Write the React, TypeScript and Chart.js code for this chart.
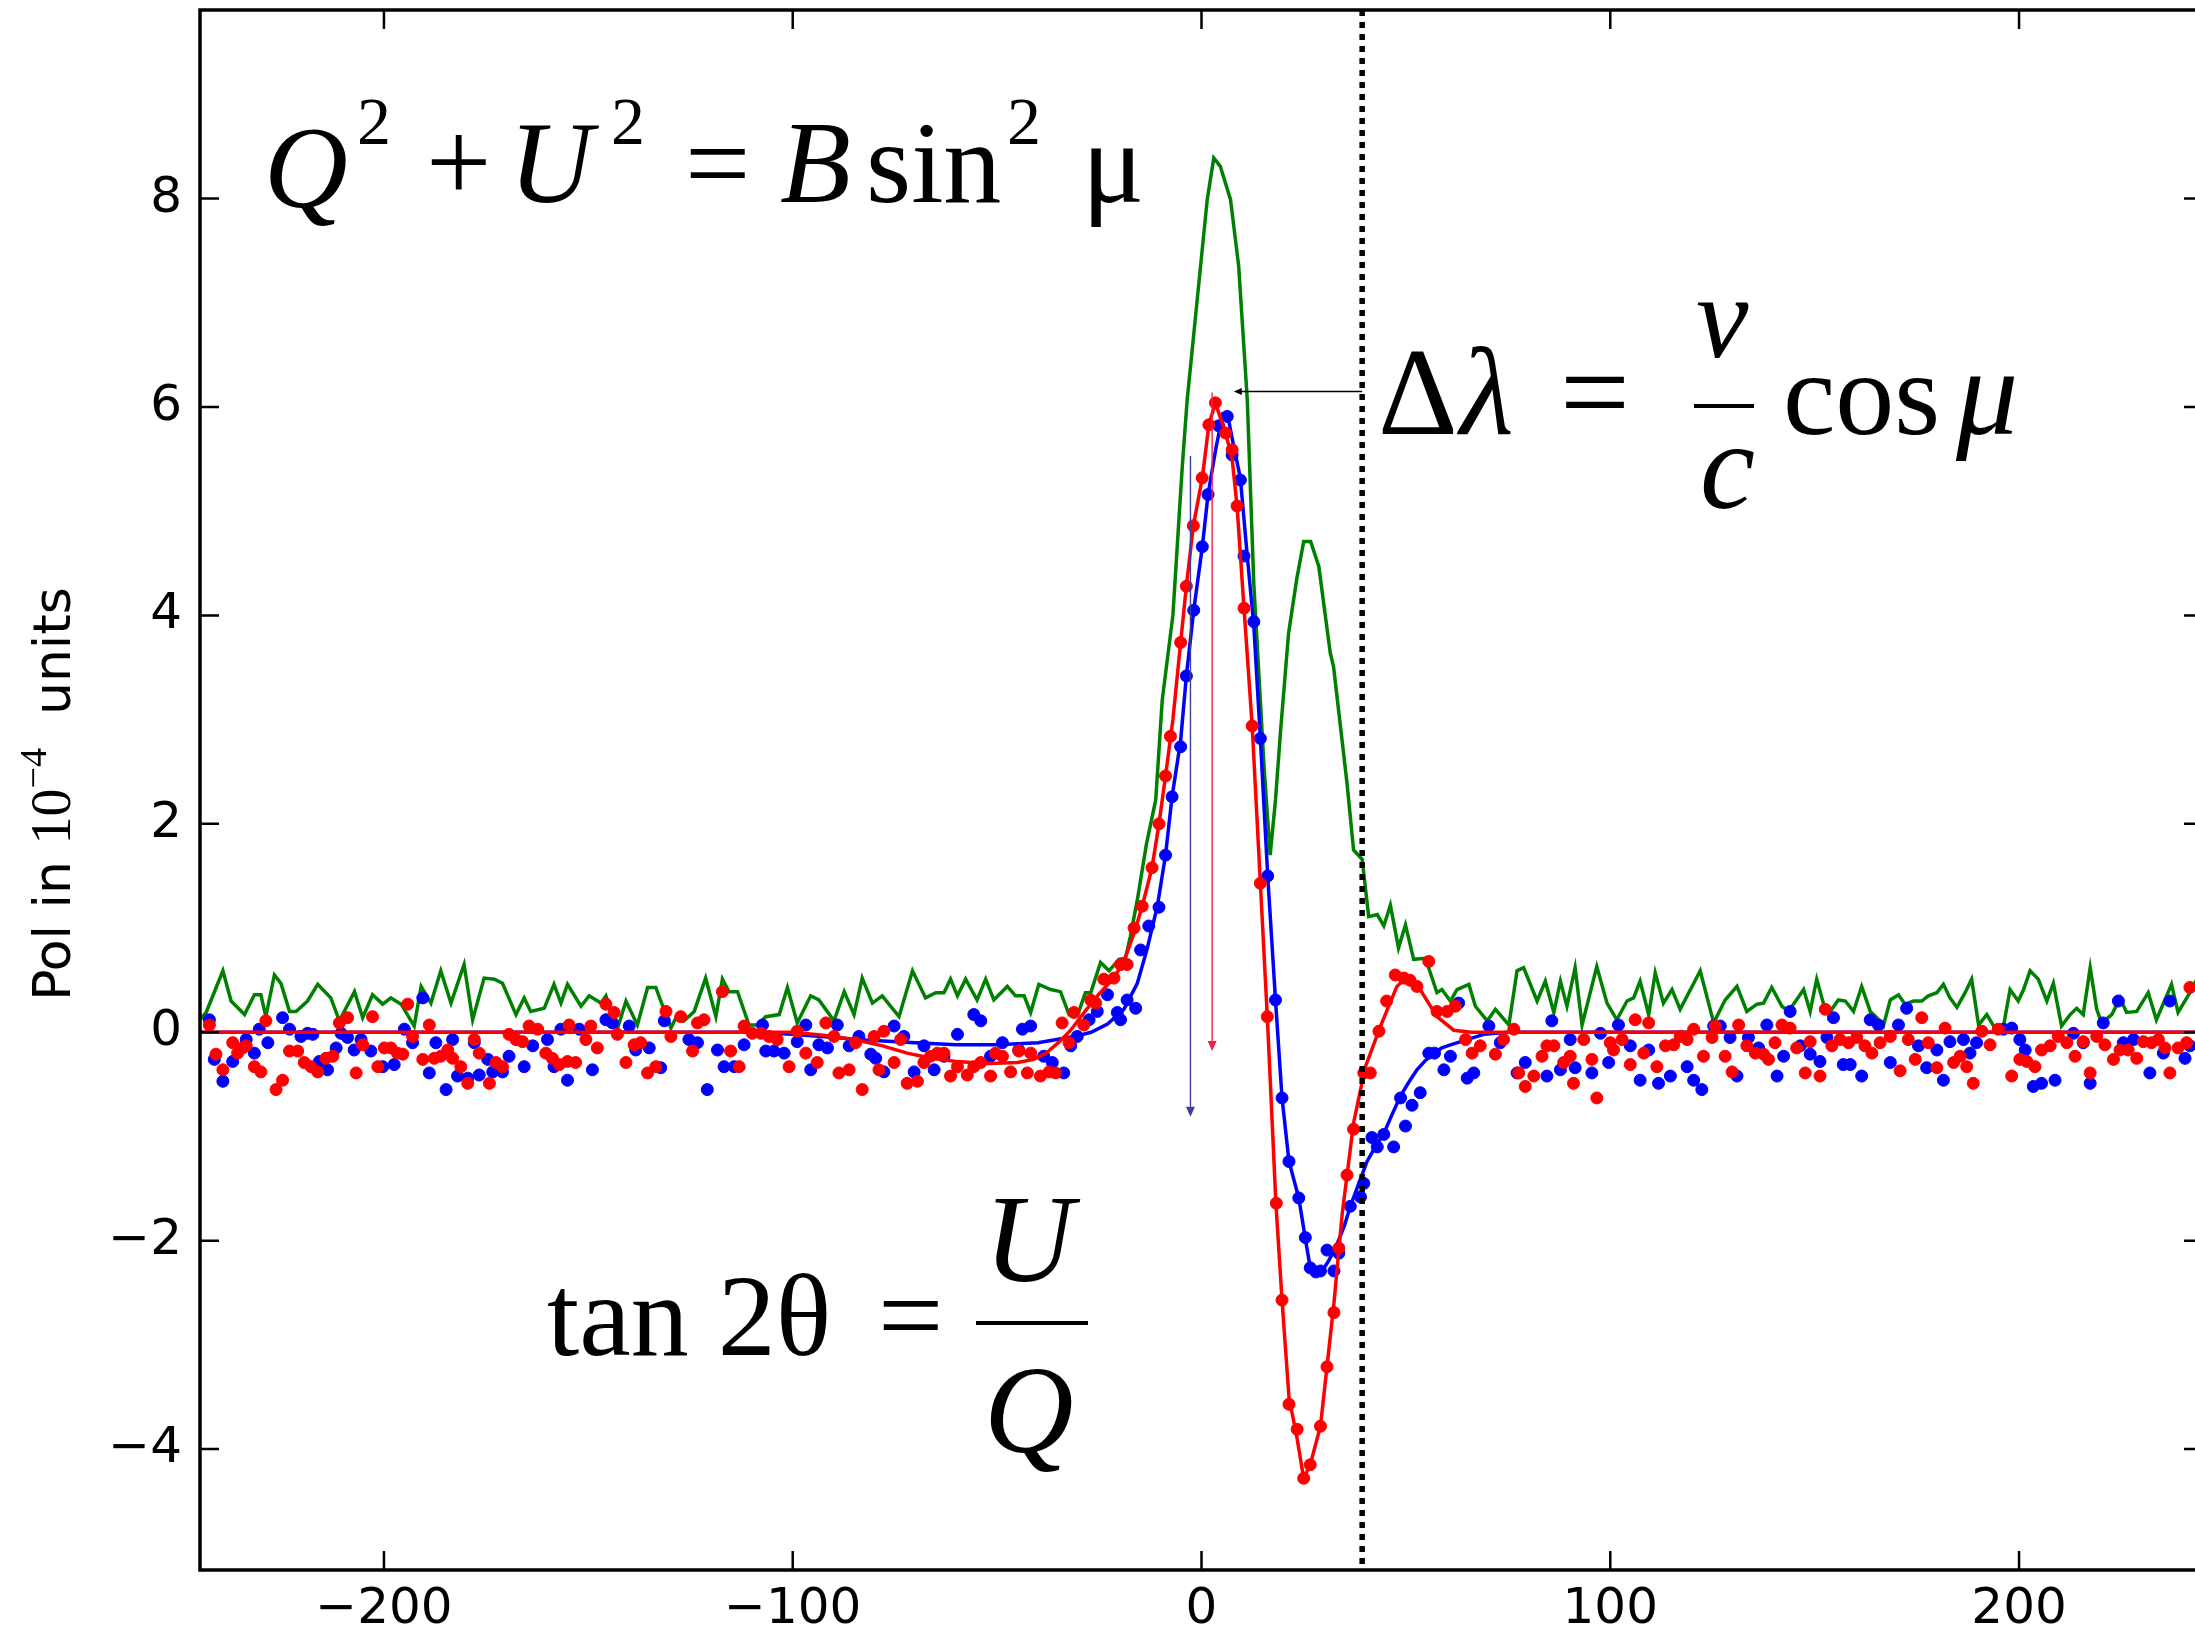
import React, { useEffect, useRef } from "react";
import { Chart, registerables } from "chart.js";

Chart.register(...registerables);

// ---------------- data ----------------
const X_MIN = -245;
const X_MAX = 245;
const Y_MIN = -5.16;
const Y_MAX = 9.81;
const X_TICKS = [-200, -100, 0, 100, 200];
const Y_TICKS = [-4, -2, 0, 2, 4, 6, 8];

// green curve (total polarisation)
const GREEN_X = [
  -245, -243.5, -239.4, -237.4, -234.1, -231.7, -230.1, -228.9, -226.8, -225.2, -223.1, -221.5, -218.7, -216.2, -213.0,
  -210.9, -207.2, -205.2, -202.8, -200.3, -198.3, -195.8, -192.6, -190.9, -188.5, -186.1, -183.6, -180.4, -178.3, -175.5,
  -173.0, -171.0, -167.7, -165.7, -164.1, -160.8, -158.4, -156.7, -155.1, -151.8, -149.8, -146.9, -145.7, -142.9, -140.8,
  -138.0, -135.5, -133.5, -129.8, -128.2, -126.6, -124.1, -121.3, -118.8, -117.2, -115.6, -113.5, -110.7, -108.6, -106.6,
  -103.3, -101.3, -98.9, -95.6, -93.6, -89.9, -87.4, -85.0, -83.0, -80.5, -78.1, -74.0, -70.7, -67.5, -65.0, -63.0, -61.4,
  -59.7, -57.7, -54.9, -52.8, -50.8, -47.5, -45.5, -43.4, -41.8, -39.8, -36.9, -34.5, -32.4, -30.0, -28.4, -27.1, -24.7,
  -22.6, -20.2, -18.6, -17.4, -15.7, -13.5, -11.2, -9.6, -7.0, -4.7, -3.5, -1.05, 1.4, 3.0, 4.6, 7.1, 9.1, 11.2, 12.8,
  15.3, 16.8, 18.1, 19.3, 21.3, 23.3, 25.0, 26.7, 28.7, 31.5, 32.3, 35.6, 37.2, 39.3, 40.9, 43.0, 44.6, 46.2, 48.2, 49.9,
  51.9, 54.8, 57.6, 58.8, 60.9, 62.5, 65.4, 67.0, 69.9, 71.9, 75.2, 77.2, 78.8, 82.1, 84.1, 86.2, 87.8, 89.4, 91.4, 93.1,
  96.7, 99.2, 101.6, 104.1, 105.7, 107.3, 109.4, 111.0, 113.0, 115.1, 117.1, 122.0, 125.3, 128.1, 131.0, 133.4, 135.9,
  137.5, 139.5, 142.0, 143.6, 147.3, 148.9, 150.5, 152.2, 153.8, 155.8, 157.5, 159.5, 161.5, 163.6, 165.2, 166.8, 168.5,
  170.5, 172.1, 174.2, 176.2, 177.8, 179.9, 181.5, 183.1, 184.8, 186.8, 188.4, 190.1, 192.1, 194.1, 196.2, 197.8, 199.8,
  201.1, 202.7, 204.7, 206.8, 208.4, 210.4, 212.5, 214.1, 215.7, 217.4, 219.0, 220.2, 222.7, 224.7, 226.3, 228.8, 231.6,
  233.6, 237.3, 238.9, 241.8, 244.0, 246.0,
];
const GREEN_Y = [
  0.12, 0.19, 0.59, 0.3, 0.17, 0.36, 0.36, 0.15, 0.55, 0.47, 0.2, 0.2, 0.3, 0.46, 0.33,
  0.11, 0.39, 0.14, 0.36, 0.27, 0.33, 0.27, 0.06, 0.44, 0.28, 0.59, 0.28, 0.65, 0.12, 0.52,
  0.51, 0.47, 0.17, 0.33, 0.2, 0.23, 0.46, 0.28, 0.46, 0.25, 0.35, 0.28, 0.35, 0.03, 0.3,
  0.07, 0.43, 0.43, 0.04, 0.17, 0.11, 0.2, 0.52, 0.15, 0.51, 0.39, 0.39, 0.07, 0.07, 0.15,
  0.17, 0.43, 0.09, 0.35, 0.31, 0.11, 0.39, 0.17, 0.52, 0.28, 0.35, 0.15, 0.59, 0.33, 0.38, 0.38, 0.51,
  0.35, 0.51, 0.31, 0.51, 0.31, 0.44, 0.35, 0.35, 0.19, 0.46, 0.41, 0.39, 0.17, 0.2, 0.38, 0.38, 0.67,
  0.59, 0.7, 0.71, 0.92, 1.27, 1.8, 2.23, 3.19, 4.0, 5.43, 6.07, 7.03, 7.99, 8.39, 8.31, 7.99, 7.35, 6.07, 4.3,
  2.55, 1.7, 2.23, 2.87, 3.83, 4.35, 4.71, 4.71, 4.47, 3.64, 3.51, 2.39, 1.75, 1.66, 1.11, 1.13, 1.02, 1.22, 0.81, 1.03,
  0.7, 0.71, 0.38, 0.41, 0.3, 0.41, 0.46, 0.25, 0.11, 0.22, 0.07, 0.59, 0.62, 0.3, 0.49, 0.19, 0.49, 0.25, 0.62, 0.07,
  0.63, 0.28, 0.12, 0.3, 0.33, 0.49, 0.17, 0.57, 0.28, 0.41, 0.22, 0.59, 0.09, 0.31, 0.44, 0.2, 0.27,
  0.28, 0.43, 0.25, 0.2, 0.41, 0.2, 0.51, 0.27, 0.2, 0.31, 0.3, 0.2, 0.44, 0.2, 0.14, 0.06, 0.31,
  0.36, 0.27, 0.3, 0.3, 0.35, 0.38, 0.46, 0.33, 0.24, 0.38, 0.51, 0.07, 0.17, 0.04, 0.06, 0.41, 0.3,
  0.41, 0.59, 0.51, 0.3, 0.47, 0.06, 0.17, 0.23, 0.17, 0.62, 0.22, 0.09, 0.17, 0.33, 0.19, 0.2, 0.38,
  0.12, 0.46, 0.19, 0.38, 0.55, 0.6,
];

// red measured points
const RED_X = [
  -242.7, -241.1, -239.4, -237.0, -235.8, -234.6, -233.7, -231.7, -230.1, -228.9, -226.4, -224.8, -223.1, -221.1, -219.5,
  -217.8, -216.2, -214.2, -212.5, -210.9, -208.9, -206.8, -205.2, -202.8, -201.5, -199.9, -198.3, -196.7, -195.4, -194.2,
  -193.0, -190.5, -188.9, -187.7, -186.1, -184.4, -183.2, -181.2, -179.5, -177.9, -176.7, -174.2, -172.6, -171.0, -169.4,
  -167.7, -166.1, -164.5, -162.4, -160.4, -158.8, -157.1, -155.1, -154.7, -153.1, -150.6, -149.4, -147.8, -145.7, -143.7,
  -142.9, -140.8, -138.8, -137.2, -135.5, -133.5, -131.0, -129.8, -127.4, -124.5, -123.3,
  -121.7, -117.2, -115.2, -113.1, -111.9, -109.9, -107.8, -105.8, -103.8, -100.9, -98.9, -96.8, -94.0, -91.9, -89.9,
  -88.7, -86.2, -84.6, -83.0, -80.1, -78.9, -77.7, -75.2, -73.6, -72.0, -69.5, -67.9, -66.3, -64.6, -63.0, -61.4, -59.7,
  -57.3, -55.7, -54.0, -51.6, -50.4, -48.7, -46.7, -44.7, -42.6, -41.8, -39.4, -37.3, -35.7, -34.1, -32.4, -31.2, -28.8,
  -27.1, -25.9, -23.9, -21.4, -19.8, -18.2, -16.5, -14.5,
  -12.1, -10.4, -8.8, -7.6, -5.1, -3.7, -2.0, 0.17, 1.8, 3.4, 5.9, 7.5, 8.7, 10.4, 12.4, 14.4, 16.1, 18.3, 19.7, 21.4,
  23.4, 25.0, 26.6, 29.1, 30.7, 32.4, 33.6, 35.6, 37.2, 39.7, 41.3, 43.4, 45.3, 47.4, 49.5, 51.0, 52.7, 55.6, 57.6, 60.1,
  62.1, 64.6, 66.2, 68.2,
  71.9, 73.9, 76.4, 77.6, 79.2, 81.3, 83.3, 84.5, 86.2, 88.6, 90.2, 91.0, 93.5, 95.5, 96.7, 100.0, 100.8, 102.9, 104.9,
  106.1, 108.2, 109.4, 111.4, 113.5, 115.5, 117.1, 118.8, 120.4, 122.8, 124.9, 125.7, 128.1, 129.8, 131.4, 133.4, 135.5,
  137.5, 138.7, 140.3, 142.0,
  144.0, 145.6, 147.7, 148.9, 151.3, 152.6, 154.2, 156.2, 158.3, 160.3, 162.3, 164.0, 166.0, 168.5, 170.9, 172.9, 174.6,
  176.2, 177.8, 179.9, 181.9, 184.0, 185.6, 187.2, 188.8, 190.9, 192.9, 194.9, 198.2, 200.2, 201.9, 203.9, 205.5, 207.6,
  209.6, 211.7, 213.7, 215.7, 217.4, 219.0, 221.0, 223.1, 224.7, 226.7, 228.8, 230.4, 232.4, 234.1, 235.7, 236.9, 238.9,
  241.0, 241.8,
];
const RED_Y = [
  0.07, -0.21, -0.36, -0.1, -0.2, -0.15, -0.13, -0.33, -0.38, 0.11, -0.55, -0.46, -0.18, -0.18, -0.29,
  -0.33, -0.38, -0.25, -0.23, 0.09, 0.14, -0.39, -0.12, 0.15, -0.33, -0.15, -0.15, -0.2, -0.21, 0.27,
  -0.04, -0.26, 0.07, -0.25, -0.23, -0.17, -0.25, -0.33, -0.49, -0.07, -0.2, -0.49, -0.29, -0.33, -0.02,
  -0.07, -0.09, 0.06, 0.03, -0.2, -0.25, -0.31, -0.28, 0.07, -0.29, -0.07, 0.06, -0.15, 0.27, 0.19,
  -0.02, -0.29, -0.12, -0.1, -0.39, -0.33, 0.2, -0.04, 0.15, -0.18, 0.09,
  0.12, 0.39, -0.18, -0.33, 0.06, -0.01, -0.01, -0.04, -0.07, -0.33, 0.01, -0.2, -0.29, 0.09, -0.04,
  -0.39, -0.36, -0.1, -0.55, -0.04, -0.36, 0.01, -0.29, -0.07, -0.49, -0.47, -0.29, -0.23, -0.2, -0.2, -0.42, -0.33,
  -0.41, -0.33, -0.29, -0.42, -0.2, -0.23, -0.38, -0.18, -0.39, -0.2, -0.42, -0.38, -0.39, 0.09, -0.1, 0.19, 0.07,
  0.31, 0.28, 0.51, 0.52, 0.65, 0.65, 1.0, 1.21,
  1.58, 2.0, 2.46, 2.84, 3.74, 4.28, 4.86, 5.32, 5.83, 6.04, 5.75, 5.59, 5.05, 4.07, 2.94, 1.43, 0.15, -1.64, -2.57, -3.57,
  -3.81, -4.28, -4.15, -3.78, -3.21, -2.69, -2.07, -1.37, -0.93, -0.39, -0.39, 0.01, 0.3, 0.55, 0.52, 0.5, 0.44, 0.68, 0.2, 0.2,
  0.25, -0.07, -0.2, -0.13,
  -0.21, -0.07, 0.03, -0.39, -0.52, -0.42, -0.23, -0.13, -0.13, -0.29, -0.23, -0.49, -0.07, -0.26, -0.63, -0.1, -0.17, -0.07, -0.31,
  0.12, -0.2, 0.09, -0.33, -0.13, -0.12, -0.04, -0.07, 0.03, -0.23, -0.05, 0.06, -0.23, -0.38, 0.07, -0.13, -0.2,
  -0.21, -0.26, -0.1, 0.07,
  0.04, -0.15, -0.39, -0.09, -0.42, 0.22, -0.13, -0.07, -0.1, -0.05, -0.13, -0.2, -0.1, -0.04, -0.37, -0.07, -0.26,
  0.14, -0.1, -0.34, 0.04, -0.29, -0.23, -0.33, -0.49, 0.01, -0.12, 0.03, -0.42, -0.26, -0.28, -0.33, -0.17, -0.13,
  -0.04, -0.1, -0.23, -0.09, -0.39, -0.04, -0.12, -0.26, -0.17, -0.17, -0.25, -0.09, -0.1, -0.07, -0.15, -0.39, -0.15,
  -0.1, 0.43,
];

// blue measured points
const BLUE_X = [
  -242.7, -241.5, -239.4, -237.0, -233.7, -231.7, -230.5, -228.4, -224.8, -223.1, -220.3, -218.7, -217.4, -215.8, -213.8,
  -211.7, -210.5, -208.9, -207.3, -205.6, -203.2, -200.3, -197.5, -195.0, -193.0, -190.5, -188.9, -187.3, -184.8, -183.2,
  -182.0, -179.5, -177.9, -176.7, -174.6, -173.4, -171.0, -169.4, -165.7, -163.6, -160.0, -158.4, -156.7, -155.1, -152.2,
  -149.0, -145.7, -144.1, -140.0, -138.4, -135.1, -132.3, -131.4, -125.4, -123.3,
  -120.9, -118.4, -116.8, -114.3, -111.9, -107.4, -106.6, -104.6, -102.1, -98.9, -96.8, -95.6, -93.6, -91.5, -89.1,
  -86.2, -83.8, -80.9, -79.7, -77.7, -75.2, -72.8, -70.3, -67.9, -65.4, -63.0, -59.7, -55.7, -54.0, -51.6, -48.7, -44.7,
  -43.8, -41.8, -38.6, -36.5, -33.7, -32.0, -30.4, -27.5, -25.5, -23.0, -20.6, -19.8, -18.2, -16.1, -14.9, -12.9, -10.4,
  -8.8, -7.2, -5.1, -3.7, -1.9, 0.2, 1.6, 4.2, 6.3, 7.5, 9.5, 10.4, 12.8, 14.4, 16.2, 18.1, 19.7, 21.4, 23.8, 25.4, 26.6,
  28.0, 29.1, 30.7, 32.4, 33.6, 36.4, 38.9, 39.7, 41.7, 43.0, 44.6, 47.0, 48.7, 49.9, 51.5, 53.5, 55.6, 57.0, 59.3, 60.9,
  62.9, 65.0, 66.6, 70.3,
  73.1, 77.2, 79.2, 84.5, 85.7, 87.8, 90.2, 91.4, 95.5, 97.6, 99.6, 102.0, 104.9, 107.3, 109.4, 111.8, 114.7, 118.8,
  120.4, 122.4, 125.3, 126.9, 129.3, 131.0, 133.8, 136.3, 138.3, 140.8, 142.4,
  144.0, 146.5, 148.9, 151.3, 153.0, 154.6, 157.0, 158.7, 161.5, 163.6, 165.6, 168.5, 170.5, 172.5, 175.4, 177.4, 179.9,
  181.5, 183.1, 186.4, 188.0, 189.6, 196.2, 198.2, 200.2, 201.5, 203.5, 205.5, 208.8, 213.3, 215.7, 217.4, 220.6, 224.3,
  225.5, 228.0, 232.0, 235.3, 236.9, 240.6, 241.8,
];
const BLUE_Y = [
  0.12, -0.26, -0.47, -0.28, -0.07, -0.2, 0.03, -0.1, 0.14, 0.03, -0.04, -0.01, -0.02, -0.28, -0.36,
  -0.15, -0.01, -0.05, -0.17, -0.07, -0.18, -0.33, -0.31, 0.03, -0.1, 0.33, -0.39, -0.1, -0.55, -0.07,
  -0.42, -0.44, -0.1, -0.41, -0.26, -0.38, -0.38, -0.23, -0.33, -0.13, -0.07, -0.33, 0.03, -0.46, 0.03,
  -0.36, 0.12, 0.09, 0.06, -0.17, -0.15, -0.34, 0.11, -0.07, -0.1,
  -0.55, -0.17, -0.33, -0.33, -0.12, 0.07, -0.18, -0.18, -0.2, -0.09, 0.07, -0.36, -0.12, -0.15, 0.07,
  -0.13, -0.04, -0.21, -0.25, -0.38, 0.06, -0.04, -0.38, -0.13, -0.36, -0.23, -0.02, 0.17, 0.11, -0.23, -0.1, -0.17,
  0.03, 0.06, -0.23, -0.29, -0.39, -0.13, -0.04, 0.12, 0.2, 0.36, 0.19, 0.12, 0.31, 0.23, 0.79, 1.02, 1.2,
  1.7, 2.26, 2.74, 3.42, 4.05, 4.66, 5.16, 5.82, 5.91, 5.54, 5.3, 4.57, 3.94, 2.82, 1.5, 0.31, -0.63, -1.24, -1.59, -1.97, -2.26,
  -2.3, -2.29, -2.09, -2.29, -2.12, -1.67, -1.58, -1.45, -1.01, -1.1, -0.98, -1.1, -0.63, -0.9, -0.7, -0.58, -0.2, -0.2, -0.36, -0.23,
  0.28, -0.44, -0.39, 0.06,
  -0.1, -0.39, -0.29, -0.42, 0.11, -0.36, -0.07, -0.34, -0.39, -0.01, -0.29, 0.07, -0.13, -0.46, -0.17, -0.49, -0.42, -0.33,
  -0.46, -0.55, 0.06, 0.06, -0.05, -0.42, -0.05, -0.15, 0.07, -0.42, -0.23,
  0.2, -0.13, -0.21, -0.28, -0.05, 0.14, -0.31, -0.31, -0.42, 0.12, 0.07, -0.29, 0.07, 0.23, -0.13, -0.34, -0.17,
  -0.46, -0.09, -0.07, -0.2, -0.1, 0.03, 0.04, -0.07, -0.17, -0.52, -0.49, -0.46, -0.01, -0.1, -0.49, 0.09, 0.3,
  -0.1, -0.07, -0.39, -0.2, 0.3, -0.25, -0.13,
];

// fitted profiles
const RED_FIT_X = [
  -245, -100, -92, -85, -78, -72, -66, -60, -52, -45, -41, -38, -35, -32, -28.5, -25, -21.5, -19, -16.5, -14.5, -12.1,
  -10.4, -8.8, -7.0, -5.1, -3.7, -2.0, 0.2, 1.8, 3.4, 5.9, 7.5, 8.7, 10.4, 12.4, 14.4, 16.1, 18.2, 19.7, 21.4, 23.4, 25.0,
  26.6, 29.1, 30.7, 32.4, 34.4, 37.2, 40.1, 43.8, 47.8, 50.3, 53.5, 57.6, 61.7, 66, 245,
];
const RED_FIT_Y = [
  0, 0, -0.03, -0.07, -0.13, -0.2, -0.25, -0.28, -0.3, -0.29, -0.26, -0.2, -0.1, 0.02, 0.2, 0.37, 0.52, 0.68, 0.95, 1.21, 1.58,
  2.0, 2.46, 3.0, 3.74, 4.28, 4.86, 5.32, 5.83, 6.04, 5.75, 5.5, 5.05, 4.07, 2.94, 1.43, 0.15, -1.64, -2.57, -3.5, -3.9, -4.28,
  -4.15, -3.78, -3.21, -2.6, -1.75, -0.87, -0.33, 0.06, 0.44, 0.53, 0.41, 0.15, 0.02, 0, 0,
];
const BLUE_FIT_X = [
  -245, -110, -100, -90, -80, -70, -60, -50, -40, -34, -30, -27, -23, -19, -15.7, -13.3, -10.8, -8.8, -7.2, -5.1, -3.7,
  -1.9, 0.2, 1.6, 3.5, 5.2, 6.5, 7.5, 9.5, 11.2, 12.8, 14.4, 16.2, 18.1, 19.7, 21.4, 23.8, 25.4, 26.6, 28, 29.5, 31, 33,
  35, 36.4, 38.5, 40.5, 42.5, 44.6, 46.5, 48.7, 50.7, 52.7, 54.8, 56.8, 58.8, 60.9, 65, 69, 75, 245,
];
const BLUE_FIT_Y = [
  0, 0, -0.02, -0.05, -0.08, -0.1, -0.12, -0.12, -0.1, -0.06, -0.03, 0, 0.08, 0.22, 0.47, 0.8, 1.21, 1.7, 2.26, 2.8, 3.42,
  4.05, 4.66, 5.16, 5.6, 5.93, 5.9, 5.7, 5.32, 4.57, 3.9, 2.82, 1.5, 0.31, -0.63, -1.24, -1.59, -1.98, -2.26, -2.3, -2.29, -2.2, -2.05,
  -1.85, -1.67, -1.45, -1.24, -1.1, -0.97, -0.8, -0.61, -0.48, -0.36, -0.27, -0.2, -0.15, -0.12, -0.07, -0.02, 0, 0,
];

// annotation geometry in data units
const MARKER_X = 39.3;
const POINTER_Y = 6.15;
const POINTER_FROM_X = 39.3;
const POINTER_TO_X = 7.9;
const DROP_X = [-2.7, 2.6];
const DROP_TOP = [5.53, 6.14];
const DROP_BOTTOM = [-0.81, -0.18];
const DROP_COLORS = ["#3d3da0", "#f5204c"];

// ---------------- helpers ----------------
const pairs = (xs: number[], ys: number[]) => xs.map((x, i) => ({ x, y: ys[i] }));
const fmt = (v: number) => (v < 0 ? "\u2212" + Math.abs(v) : String(v));

const SERIF = '"Liberation Serif", "Times New Roman", serif';
const SANS = '"DejaVu Sans", sans-serif';

function arrow(ctx: CanvasRenderingContext2D, x0: number, y0: number, x1: number, y1: number, color: string, lw: number, hl: number, hw: number) {
  const ang = Math.atan2(y1 - y0, x1 - x0);
  const bx = x1 - Math.cos(ang) * hl;
  const by = y1 - Math.sin(ang) * hl;
  ctx.strokeStyle = color;
  ctx.fillStyle = color;
  ctx.lineWidth = lw;
  ctx.beginPath();
  ctx.moveTo(x0, y0);
  ctx.lineTo(bx, by);
  ctx.stroke();
  ctx.beginPath();
  ctx.moveTo(x1, y1);
  ctx.lineTo(bx + Math.sin(ang) * hw / 2, by - Math.cos(ang) * hw / 2);
  ctx.lineTo(bx - Math.sin(ang) * hw / 2, by + Math.cos(ang) * hw / 2);
  ctx.closePath();
  ctx.fill();
}

const overlay = {
  id: "overlay",
  afterDatasetsDraw(chart: any) {
    const { ctx, chartArea: a, scales } = chart;
    const xs = scales.x;
    const ys = scales.y;
    ctx.save();
    DROP_X.forEach((dx, i) => {
      const px = xs.getPixelForValue(dx);
      arrow(ctx, px, ys.getPixelForValue(DROP_TOP[i]), px, ys.getPixelForValue(DROP_BOTTOM[i]), DROP_COLORS[i], 1.4, 10, 9);
    });
    const py = ys.getPixelForValue(POINTER_Y);
    arrow(ctx, xs.getPixelForValue(POINTER_FROM_X), py, xs.getPixelForValue(POINTER_TO_X), py, "#000", 1.5, 8, 7);
    const mx = xs.getPixelForValue(MARKER_X);
    ctx.strokeStyle = "#000";
    ctx.lineWidth = 5.5;
    ctx.setLineDash([6, 6]);
    ctx.beginPath();
    ctx.moveTo(mx, a.top);
    ctx.lineTo(mx, a.bottom);
    ctx.stroke();
    ctx.setLineDash([]);
    ctx.restore();
  },
  afterDraw(chart: any) {
    const { ctx, chartArea: a, scales } = chart;
    const xs = scales.x;
    const ys = scales.y;
    ctx.save();
    ctx.strokeStyle = "#000";
    ctx.lineWidth = 3.5;
    ctx.strokeRect(a.left, a.top, a.right - a.left, a.bottom - a.top);
    const TL = 19;
    ctx.lineWidth = 2.5;
    ctx.beginPath();
    X_TICKS.forEach((v) => {
      const p = xs.getPixelForValue(v);
      ctx.moveTo(p, a.bottom);
      ctx.lineTo(p, a.bottom - TL);
      ctx.moveTo(p, a.top);
      ctx.lineTo(p, a.top + TL);
    });
    Y_TICKS.forEach((v) => {
      const p = ys.getPixelForValue(v);
      ctx.moveTo(a.left, p);
      ctx.lineTo(a.left + TL, p);
      ctx.moveTo(a.right, p);
      ctx.lineTo(a.right - TL, p);
    });
    ctx.stroke();

    // y-axis title (rotated)
    ctx.fillStyle = "#000";
    ctx.textBaseline = "alphabetic";
    ctx.textAlign = "left";
    const parts = [
      { t: "Pol in ", f: `52px ${SANS}`, dy: 0 },
      { t: "10", f: `56px ${SERIF}`, dy: 0 },
      { t: "\u22124", f: `38px ${SERIF}`, dy: -24 },
      { t: "  units", f: `52px ${SANS}`, dy: 0 },
    ];
    let total = 0;
    parts.forEach((p) => {
      ctx.font = p.f;
      total += ctx.measureText(p.t).width;
    });
    ctx.save();
    ctx.translate(70, (a.top + a.bottom) / 2 + 4);
    ctx.rotate(-Math.PI / 2);
    let cx = -total / 2;
    parts.forEach((p) => {
      ctx.font = p.f;
      ctx.fillText(p.t, cx, p.dy);
      cx += ctx.measureText(p.t).width;
    });
    ctx.restore();

    const T = (s: string, x: number, y: number, f: string) => {
      ctx.font = f;
      ctx.fillText(s, x, y);
    };
    // Q^2 + U^2 = B sin^2 mu
    T("Q", 264, 207, `italic 116px ${SERIF}`);
    T("2", 357, 144, `68px ${SERIF}`);
    T("+", 426, 201, `116px ${SERIF}`);
    T("U", 509, 202, `italic 116px ${SERIF}`);
    T("2", 611, 144, `68px ${SERIF}`);
    T("=", 685, 202, `116px ${SERIF}`);
    T("B", 780, 202, `italic 116px ${SERIF}`);
    T("sin", 866, 202, `116px ${SERIF}`);
    T("2", 1007, 144, `68px ${SERIF}`);
    T("\u03bc", 1082, 202, `116px ${SERIF}`);

    // Delta lambda = nu/c cos mu
    T("\u0394", 1378, 434, `124px ${SERIF}`);
    T("\u03bb", 1460, 434, `italic 124px ${SERIF}`);
    T("=", 1560, 434, `124px ${SERIF}`);
    ctx.fillRect(1694, 404, 60, 4);
    T("\u03bd", 1696, 357, `italic 118px ${SERIF}`);
    T("c", 1700, 508, `italic 124px ${SERIF}`);
    T("cos", 1783, 434, `118px ${SERIF}`);
    T("\u03bc", 1956, 434, `italic 124px ${SERIF}`);

    // tan 2theta = U/Q
    T("tan 2\u03b8", 547, 1355, `116px ${SERIF}`);
    T("=", 878, 1354, `116px ${SERIF}`);
    ctx.fillRect(976, 1321, 112, 4);
    T("U", 984, 1281, `italic 124px ${SERIF}`);
    T("Q", 984, 1452, `italic 124px ${SERIF}`);
    ctx.restore();
  },
};

export default function App() {
  const ref = useRef<HTMLCanvasElement | null>(null);
  useEffect(() => {
    if (!ref.current) return;
    const chart = new Chart(ref.current, {
      type: "scatter",
      data: {
        datasets: [
          {
            label: "red fit",
            data: pairs(RED_FIT_X, RED_FIT_Y),
            showLine: true,
            borderColor: "#ff0000",
            borderWidth: 3.5,
            pointRadius: 0,
            tension: 0,
          },
          {
            label: "red",
            data: pairs(RED_X, RED_Y),
            backgroundColor: "#ff0000",
            borderColor: "#ff0000",
            borderWidth: 1,
            pointRadius: 6,
          },
          {
            label: "blue fit",
            data: pairs(BLUE_FIT_X, BLUE_FIT_Y),
            showLine: true,
            borderColor: "#0000ff",
            borderWidth: 3.5,
            pointRadius: 0,
            tension: 0,
          },
          {
            label: "blue",
            data: pairs(BLUE_X, BLUE_Y),
            backgroundColor: "#0000ff",
            borderColor: "#0000ff",
            borderWidth: 1,
            pointRadius: 6,
          },
          {
            label: "green",
            data: pairs(GREEN_X, GREEN_Y),
            showLine: true,
            borderColor: "#008000",
            borderWidth: 3.5,
            pointRadius: 0,
            tension: 0,
          },
        ],
      },
      options: {
        animation: false,
        responsive: false,
        devicePixelRatio: 1,
        events: [],
        layout: { padding: { left: 0, top: 10, right: 6, bottom: 0 } },
        plugins: { legend: { display: false }, tooltip: { enabled: false }, title: { display: false } },
        scales: {
          x: {
            type: "linear",
            position: "bottom",
            min: X_MIN,
            max: X_MAX,
            afterBuildTicks: (s: any) => {
              s.ticks = X_TICKS.map((v) => ({ value: v }));
            },
            afterFit: (s: any) => {
              s.height = 65;
              s.paddingLeft = 0;
              s.paddingRight = 0;
              s.paddingTop = 0;
              s.paddingBottom = 0;
            },
            grid: { display: false, drawTicks: false },
            border: { display: false },
            ticks: {
              autoSkip: false,
              maxRotation: 0,
              padding: 10,
              color: "#000",
              font: { family: "DejaVu Sans", size: 50 },
              callback: (v: any) => fmt(Number(v)),
            },
          },
          y: {
            type: "linear",
            position: "left",
            min: Y_MIN,
            max: Y_MAX,
            afterBuildTicks: (s: any) => {
              s.ticks = Y_TICKS.map((v) => ({ value: v }));
            },
            afterFit: (s: any) => {
              s.width = 200;
              s.paddingLeft = 0;
              s.paddingRight = 0;
              s.paddingTop = 0;
              s.paddingBottom = 0;
            },
            grid: { display: false, drawTicks: false },
            border: { display: false },
            ticks: {
              autoSkip: false,
              padding: 18,
              color: "#000",
              font: { family: "DejaVu Sans", size: 50 },
              callback: (v: any) => fmt(Number(v)),
            },
          },
        },
      },
      plugins: [overlay],
    });
    return () => chart.destroy();
  }, []);

  return (
    <div style={{ position: "absolute", left: 0, top: 0, width: 2195, height: 1635, overflow: "hidden", background: "#fff" }}>
      <canvas ref={ref} width={2210} height={1635} style={{ display: "block", width: 2210, height: 1635 }} />
    </div>
  );
}
